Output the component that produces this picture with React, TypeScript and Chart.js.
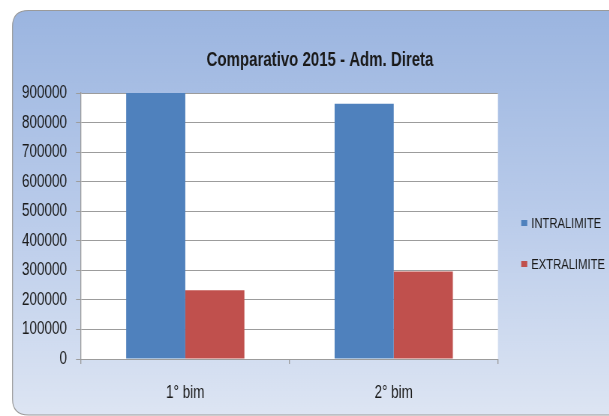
import React, { useEffect, useRef } from "react";
import { Chart, registerables } from "chart.js";

Chart.register(...registerables);

// ---- data ----
const titleText = "Comparativo 2015 - Adm. Direta";
const categories = ["1° bim", "2° bim"];
const seriesNames = ["INTRALIMITE", "EXTRALIMITE"];
const intralimite = [900000, 864000];
const extralimite = [233000, 296000];
const seriesColors = ["#4F81BD", "#C0504D"];
const yMin = 0;
const yMax = 900000;
const yStep = 100000;

// ---- layout / style ----
// The canvas is drawn wider and shown horizontally compressed (like the reference's narrow text).
const S = 4 / 3;
const DISPLAY_W = 640;
const W = Math.round(DISPLAY_W * S);
const H = 416;
const sx = (v: number) => v * S;
const FONT = '"Liberation Sans", Arial, sans-serif';
const TEXT = "#1a1a1a";
const GRID = "#9c9c9c";

const framePlugin = {
  id: "frameBg",
  beforeDraw(chart: any) {
    const ctx = chart.ctx as CanvasRenderingContext2D;
    ctx.save();
    ctx.fillStyle = "#ffffff";
    ctx.fillRect(0, 0, chart.width, chart.height);
    const x = sx(12.5), y = 10.5, w = chart.width + 60, h = 404.5;
    const rx = sx(16), ry = 16;
    const g = ctx.createLinearGradient(0, y, 0, y + h);
    g.addColorStop(0, "#9bb5e0");
    g.addColorStop(0.5, "#b9cbea");
    g.addColorStop(1, "#dde5f3");
    ctx.beginPath();
    ctx.moveTo(x + rx, y);
    ctx.lineTo(x + w - rx, y);
    ctx.quadraticCurveTo(x + w, y, x + w, y + ry);
    ctx.lineTo(x + w, y + h - ry);
    ctx.quadraticCurveTo(x + w, y + h, x + w - rx, y + h);
    ctx.lineTo(x + rx, y + h);
    ctx.quadraticCurveTo(x, y + h, x, y + h - ry);
    ctx.lineTo(x, y + ry);
    ctx.quadraticCurveTo(x, y, x + rx, y);
    ctx.closePath();
    ctx.fillStyle = g;
    ctx.fill();
    ctx.strokeStyle = "#9a9a9a";
    ctx.lineWidth = 1.2;
    ctx.stroke();
    const a = chart.chartArea;
    ctx.fillStyle = "#ffffff";
    ctx.fillRect(a.left, a.top, a.right - a.left, a.bottom - a.top);
    ctx.restore();
  },
};

const legendPlugin = {
  id: "sideLegend",
  afterDraw(chart: any, _args: any, opts: any) {
    const ctx = chart.ctx as CanvasRenderingContext2D;
    ctx.save();
    ctx.font = `15px ${FONT}`;
    ctx.textBaseline = "middle";
    ctx.textAlign = "left";
    chart.data.datasets.forEach((ds: any, i: number) => {
      const cy = opts.top + i * opts.gap;
      ctx.fillStyle = ds.backgroundColor;
      ctx.fillRect(opts.left, cy - 3, sx(6), 6);
      ctx.fillStyle = TEXT;
      ctx.fillText(ds.label, opts.left + sx(10), cy + 0.5);
    });
    ctx.restore();
  },
};

export default function App() {
  const ref = useRef<HTMLCanvasElement>(null);

  useEffect(() => {
    if (!ref.current) return;
    const chart = new Chart(ref.current, {
      type: "bar",
      data: {
        labels: categories,
        datasets: [
          { label: seriesNames[0], data: intralimite, backgroundColor: seriesColors[0], borderWidth: 0 },
          { label: seriesNames[1], data: extralimite, backgroundColor: seriesColors[1], borderWidth: 0 },
        ],
      },
      options: {
        responsive: false,
        animation: false,
        devicePixelRatio: 1,
        layout: { padding: 0 },
        datasets: {
          bar: { categoryPercentage: 0.567, barPercentage: 1 },
        },
        plugins: {
          legend: { display: false },
          tooltip: { enabled: false },
          title: {
            display: true,
            text: titleText,
            color: TEXT,
            font: { family: FONT, size: 20, weight: "bold" },
            padding: { top: 48, bottom: 21 },
          },
          sideLegend: { left: sx(521), top: 223, gap: 41 },
        } as any,
        scales: {
          x: {
            grid: {
              display: true,
              drawOnChartArea: false,
              drawTicks: true,
              tickLength: 5,
              color: GRID,
              lineWidth: S,
              offset: true,
            },
            border: { display: true, color: GRID, width: 1 },
            ticks: { color: TEXT, font: { family: FONT, size: 18 }, padding: 18 },
            afterFit: (s: any) => { s.height = 57; },
          },
          y: {
            min: yMin,
            max: yMax,
            grid: { color: GRID, tickLength: sx(5), drawTicks: true, lineWidth: 1 },
            border: { display: true, color: GRID, width: S },
            ticks: {
              stepSize: yStep,
              color: TEXT,
              font: { family: FONT, size: 18 },
              padding: sx(9),
              callback: (v: any) => String(v),
            },
            afterFit: (s: any) => { s.width = sx(81); },
          },
          legendSpace: {
            type: "linear",
            position: "right",
            display: true,
            grid: { display: false, drawOnChartArea: false },
            border: { display: false },
            ticks: { display: false },
            afterFit: (s: any) => { s.width = sx(DISPLAY_W - 498); },
          },
        },
      },
      plugins: [framePlugin, legendPlugin],
    } as any);
    return () => chart.destroy();
  }, []);

  return (
    <div style={{ position: "fixed", left: 0, top: 0, width: 609, height: 416, overflow: "hidden", background: "#fff" }}>
      <canvas
        ref={ref}
        width={W}
        height={H}
        style={{ width: `${W / S}px`, height: `${H}px`, display: "block" }}
      />
    </div>
  );
}
